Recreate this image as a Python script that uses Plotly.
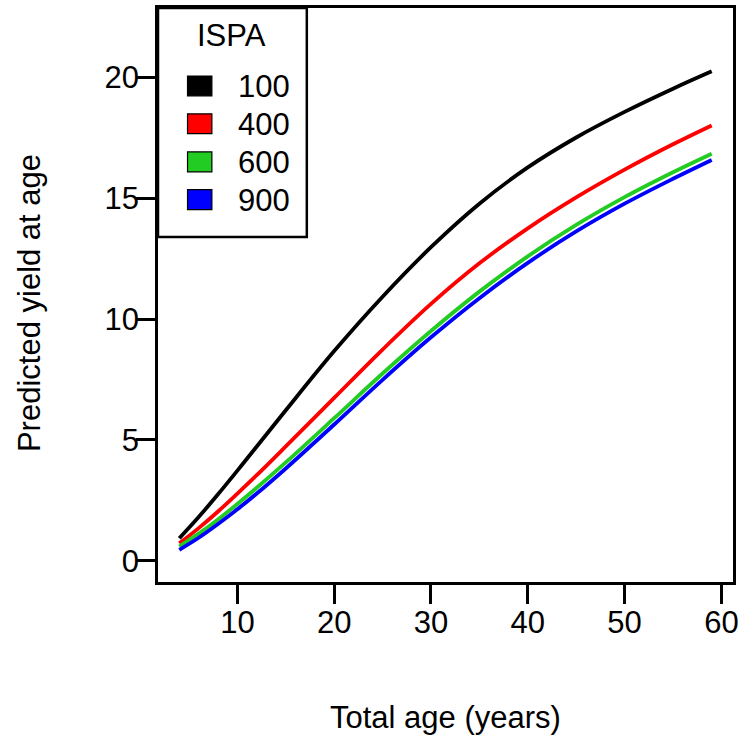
import plotly.graph_objects as go

# ---- data ----
ages = [4, 6, 8, 10, 12, 15, 20, 25, 30, 35, 40, 45, 50, 55, 59]
yield_100 = [0.93, 1.81, 2.75, 3.73, 4.73, 6.23, 8.68, 10.93, 12.98, 14.78, 16.28, 17.52, 18.58, 19.54, 20.26]
yield_400 = [0.72, 1.35, 2.04, 2.78, 3.54, 4.73, 6.74, 8.74, 10.63, 12.31, 13.76, 15.04, 16.19, 17.24, 18.02]
yield_600 = [0.59, 1.12, 1.71, 2.35, 3.02, 4.07, 5.90, 7.75, 9.51, 11.14, 12.60, 13.90, 15.05, 16.08, 16.85]
yield_900 = [0.45, 0.95, 1.52, 2.13, 2.78, 3.82, 5.64, 7.49, 9.25, 10.87, 12.33, 13.63, 14.78, 15.81, 16.59]
ispa_labels = ["100", "400", "600", "900"]
colors = ["#000000", "#ff0000", "#22cc22", "#0000ff"]
x_ticks = [10, 20, 30, 40, 50, 60]
y_ticks = [0, 5, 10, 15, 20]

series = [yield_100, yield_400, yield_600, yield_900]

FONT = "Liberation Sans, Arial, Helvetica, sans-serif"
FS = 31

# plot area in pixels
W_FIG, H_FIG = 744, 735
L, R, T, B = 158.3, 736.7, 5.0, 581.7
PW, PH = R - L, B - T


def px(x):
    return (x - L) / PW


def py(y):
    return (B - y) / PH


fig = go.Figure()
for vals, col, lab in zip(series, colors, ispa_labels):
    fig.add_trace(go.Scatter(x=ages, y=vals, mode="lines", name=lab,
                             line=dict(color=col, width=3.8, shape="spline", smoothing=1.0),
                             showlegend=False))

shapes = []
annotations = []

# legend box
shapes.append(dict(type="rect", xref="paper", yref="paper",
                   x0=px(L), x1=px(308), y0=py(235), y1=py(T),
                   line=dict(color="black", width=2.5), fillcolor="white", layer="above"))
annotations.append(dict(text="ISPA", xref="paper", yref="paper", x=px(232.5), y=py(33),
                        xanchor="center", yanchor="middle", showarrow=False,
                        font=dict(family=FONT, size=FS, color="black")))
row_y = [83.3, 121.3, 159.6, 197.5]
for lab, col, ry in zip(ispa_labels, colors, row_y):
    shapes.append(dict(type="rect", xref="paper", yref="paper",
                       x0=px(188), x1=px(212.5), y0=py(ry + 10), y1=py(ry - 10),
                       line=dict(color="black", width=1.2), fillcolor=col, layer="above"))
    annotations.append(dict(text=lab, xref="paper", yref="paper", x=px(293), y=py(ry + 1),
                            xanchor="right", yanchor="middle", showarrow=False,
                            font=dict(family=FONT, size=FS, color="black")))

# axis titles
annotations.append(dict(text="Total age (years)", xref="paper", yref="paper",
                        x=px(447.5), y=py(718), xanchor="center", yanchor="middle",
                        showarrow=False, font=dict(family=FONT, size=FS, color="black")))
annotations.append(dict(text="Predicted yield at age", xref="paper", yref="paper",
                        x=px(29), y=py(301), xanchor="center", yanchor="middle",
                        textangle=-90, showarrow=False,
                        font=dict(family=FONT, size=FS, color="black")))

fig.update_layout(
    width=W_FIG, height=H_FIG,
    margin=dict(l=L, r=W_FIG - R, t=T, b=H_FIG - B, pad=0),
    paper_bgcolor="white", plot_bgcolor="white",
    font=dict(family=FONT, size=FS, color="black"),
    shapes=shapes, annotations=annotations,
    xaxis=dict(range=[1.8, 61.2], tickvals=x_ticks, ticktext=[str(v) for v in x_ticks],
               showgrid=False, zeroline=False, showline=True, mirror=True,
               linecolor="black", linewidth=2.5, ticks="outside", ticklen=19,
               tickwidth=2.5, tickcolor="black", ticklabelstandoff=-8,
               tickfont=dict(family=FONT, size=FS, color="black")),
    yaxis=dict(range=[-0.88, 22.88], tickvals=y_ticks, ticktext=[str(v) for v in y_ticks],
               showgrid=False, zeroline=False, showline=True, mirror=True,
               linecolor="black", linewidth=2.5, ticks="outside", ticklen=19,
               tickwidth=2.5, tickcolor="black", ticklabelstandoff=-9,
               tickfont=dict(family=FONT, size=FS, color="black")),
)

fig.write_html("out.html")
